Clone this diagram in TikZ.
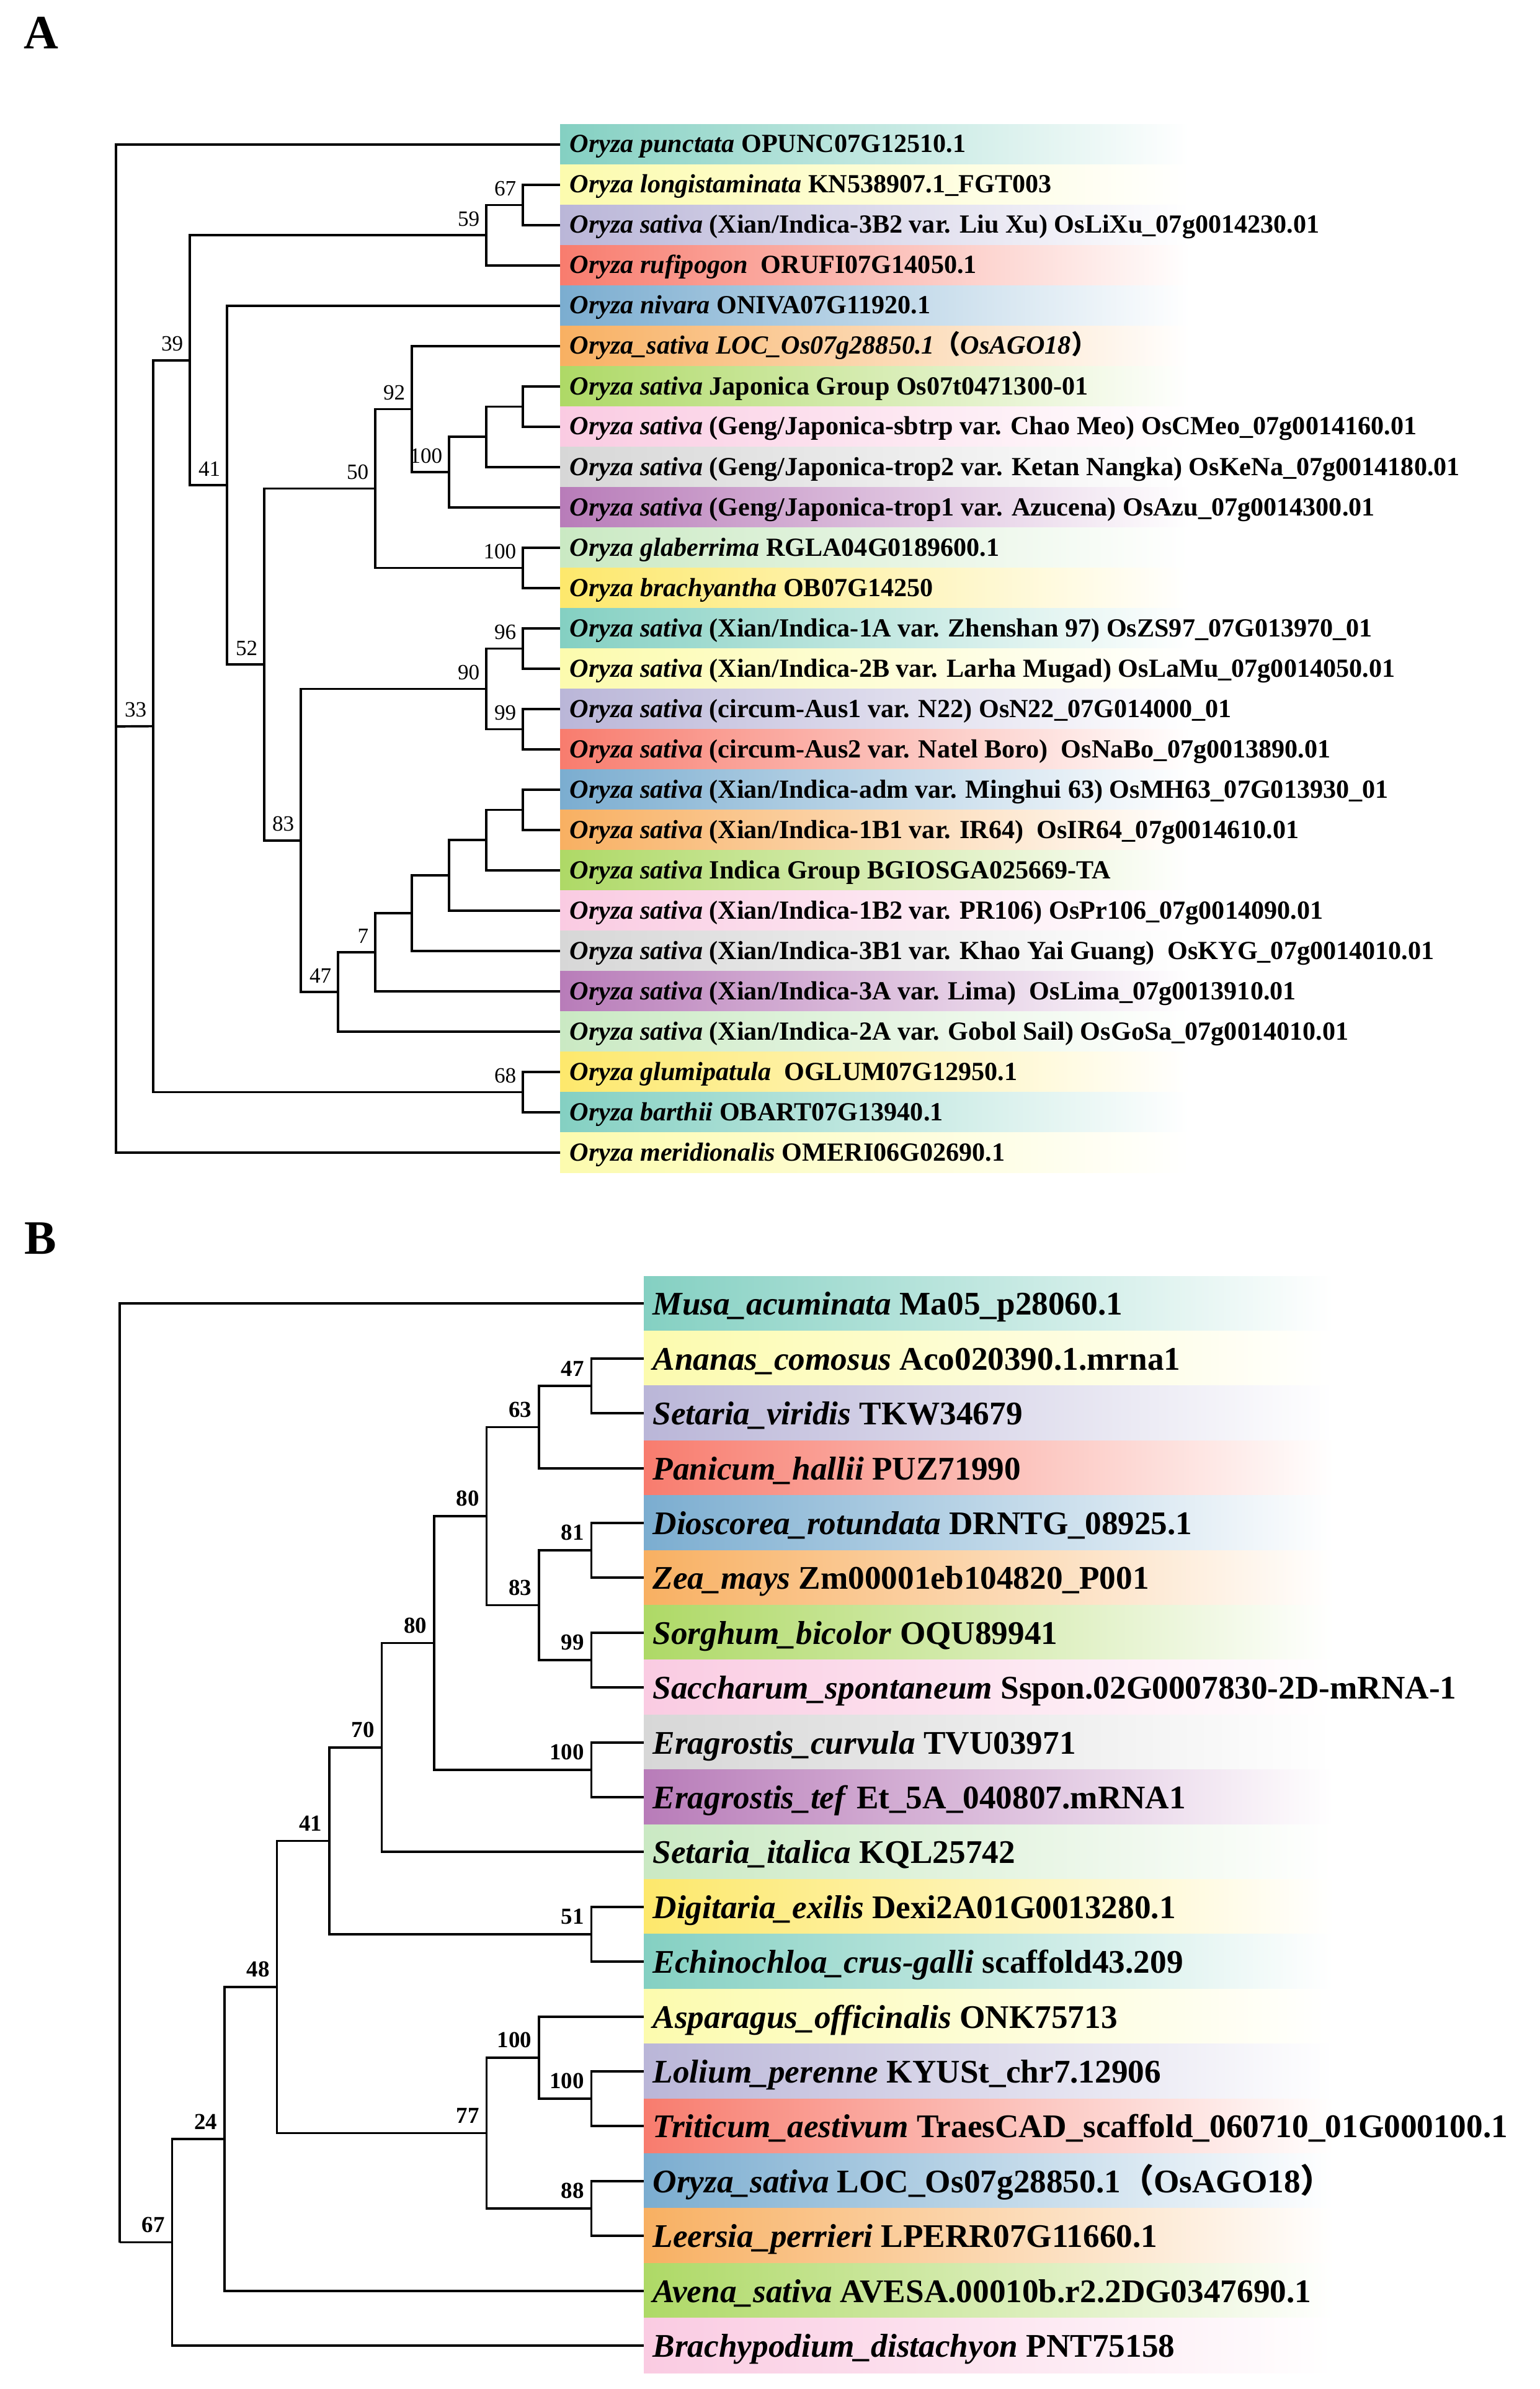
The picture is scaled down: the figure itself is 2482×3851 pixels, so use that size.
\documentclass[tikz,border=0pt]{standalone}
\usepackage{fontspec}
\setmainfont{Liberation Serif}
\newfontfamily\cjkfont{Noto Sans CJK SC}
\definecolor{cTeal}{HTML}{84D0C2}
\definecolor{cCream}{HTML}{FCFBAE}
\definecolor{cLilac}{HTML}{BAB6D8}
\definecolor{cSalmon}{HTML}{F87C6E}
\definecolor{cBlue}{HTML}{7BADD0}
\definecolor{cOrange}{HTML}{F8B062}
\definecolor{cGreen}{HTML}{AED966}
\definecolor{cPink}{HTML}{FACBE2}
\definecolor{cGrey}{HTML}{D7D7D7}
\definecolor{cPurple}{HTML}{B87CB9}
\definecolor{cMint}{HTML}{CAE9C3}
\definecolor{cGold}{HTML}{FDE86C}
\begin{document}
\begin{tikzpicture}[x=0.1mm,y=-0.1mm,
  branch/.style={line width=1.05pt, line join=miter},
  leafA/.style={anchor=west, inner xsep=1.5mm, inner ysep=0pt, text height=9.6pt, text depth=2.2pt,
    font=\fontsize{12}{14}\selectfont\bfseries},
  leafB/.style={anchor=west, inner xsep=1.4mm, inner ysep=0pt, text height=13.8pt, text depth=3.3pt,
    font=\fontsize{15.15}{18}\selectfont\bfseries},
  bsA/.style={label={[font=\fontsize{10}{12}\selectfont, inner sep=0pt, xshift=-1mm, yshift=1.4mm]above left:#1}},
  bsB/.style={label={[font=\fontsize{10.5}{12}\selectfont\bfseries, inner sep=0pt, xshift=-1.1mm, yshift=1.5mm]above left:#1}},
  panel/.style={anchor=base west, inner sep=0pt, font=\fontsize{22}{26}\selectfont\bfseries}]
\useasboundingbox (0,0) rectangle (2482,3851);

% panel A
\node[panel] (pA) at (38,79) {A};
\foreach \c [count=\i from 0] in {cTeal,cCream,cLilac,cSalmon,cBlue,cOrange,cGreen,cPink,cGrey,cPurple,cMint,cGold,
  cTeal,cCream,cLilac,cSalmon,cBlue,cOrange,cGreen,cPink,cGrey,cPurple,cMint,cGold,cTeal,cCream}
  \shade[left color=\c, right color=white] (903,{200.5+65*\i}) rectangle (1918,{265.5+65*\i});

\node[leafA] (tA0) at (903,233) {\textit{Oryza punctata} OPUNC07G12510.1};
\node[leafA] (tA1) at (903,298) {\textit{Oryza longistaminata} KN538907.1\_FGT003};
\node[leafA] (tA2) at (903,363) {\textit{Oryza sativa} (Xian/Indica-3B2 var. Liu Xu) OsLiXu\_07g0014230.01};
\node[leafA] (tA3) at (903,428) {\textit{Oryza rufipogon}\ \ ORUFI07G14050.1};
\node[leafA] (tA4) at (903,493) {\textit{Oryza nivara} ONIVA07G11920.1};
\node[leafA] (tA5) at (903,558) {\textit{Oryza\_sativa LOC\_Os07g28850.1}{\cjkfont （}\textit{OsAGO18}{\cjkfont ）}};
\node[leafA] (tA6) at (903,623) {\textit{Oryza sativa} Japonica Group Os07t0471300-01};
\node[leafA] (tA7) at (903,688) {\textit{Oryza sativa} (Geng/Japonica-sbtrp var. Chao Meo) OsCMeo\_07g0014160.01};
\node[leafA] (tA8) at (903,753) {\textit{Oryza sativa} (Geng/Japonica-trop2 var. Ketan Nangka) OsKeNa\_07g0014180.01};
\node[leafA] (tA9) at (903,818) {\textit{Oryza sativa} (Geng/Japonica-trop1 var. Azucena) OsAzu\_07g0014300.01};
\node[leafA] (tA10) at (903,883) {\textit{Oryza glaberrima} RGLA04G0189600.1};
\node[leafA] (tA11) at (903,948) {\textit{Oryza brachyantha} OB07G14250};
\node[leafA] (tA12) at (903,1013) {\textit{Oryza sativa} (Xian/Indica-1A var. Zhenshan 97) OsZS97\_07G013970\_01};
\node[leafA] (tA13) at (903,1078) {\textit{Oryza sativa} (Xian/Indica-2B var. Larha Mugad) OsLaMu\_07g0014050.01};
\node[leafA] (tA14) at (903,1143) {\textit{Oryza sativa} (circum-Aus1 var. N22) OsN22\_07G014000\_01};
\node[leafA] (tA15) at (903,1208) {\textit{Oryza sativa} (circum-Aus2 var. Natel Boro)\ \ OsNaBo\_07g0013890.01};
\node[leafA] (tA16) at (903,1273) {\textit{Oryza sativa} (Xian/Indica-adm var. Minghui 63) OsMH63\_07G013930\_01};
\node[leafA] (tA17) at (903,1338) {\textit{Oryza sativa} (Xian/Indica-1B1 var. IR64)\ \ OsIR64\_07g0014610.01};
\node[leafA] (tA18) at (903,1403) {\textit{Oryza sativa} Indica Group BGIOSGA025669-TA};
\node[leafA] (tA19) at (903,1468) {\textit{Oryza sativa} (Xian/Indica-1B2 var. PR106) OsPr106\_07g0014090.01};
\node[leafA] (tA20) at (903,1533) {\textit{Oryza sativa} (Xian/Indica-3B1 var. Khao Yai Guang)\ \ OsKYG\_07g0014010.01};
\node[leafA] (tA21) at (903,1598) {\textit{Oryza sativa} (Xian/Indica-3A var. Lima)\ \ OsLima\_07g0013910.01};
\node[leafA] (tA22) at (903,1663) {\textit{Oryza sativa} (Xian/Indica-2A var. Gobol Sail) OsGoSa\_07g0014010.01};
\node[leafA] (tA23) at (903,1728) {\textit{Oryza glumipatula}\ \ OGLUM07G12950.1};
\node[leafA] (tA24) at (903,1793) {\textit{Oryza barthii} OBART07G13940.1};
\node[leafA] (tA25) at (903,1858) {\textit{Oryza meridionalis} OMERI06G02690.1};

% inner nodes of A
\coordinate (rA) at (187,1171);
\coordinate[bsA=33] (nA33) at (247,1170.6);
\coordinate[bsA=39] (nA39) at (306,580.7);
\coordinate[bsA=59] (nA59) at (784,379.3);
\coordinate[bsA=67] (nA67) at (843,330.5);
\coordinate[bsA=41] (nA41) at (366,782.1);
\coordinate[bsA=52] (nA52) at (426,1071.1);
\coordinate[bsA=50] (nA50) at (605,787.5);
\coordinate[bsA=92] (nA92) at (664,659.6);
\coordinate[bsA=100] (nA100j) at (724,761.1);
\coordinate (nAj2) at (784,704.3);
\coordinate (nAj1) at (843,655.5);
\coordinate[bsA=100] (nA100g) at (843,915.5);
\coordinate[bsA=83] (nA83) at (485,1354.8);
\coordinate[bsA=90] (nA90) at (784,1110.5);
\coordinate[bsA=96] (nA96) at (843,1045.5);
\coordinate[bsA=99] (nA99) at (843,1175.5);
\coordinate[bsA=47] (nA47) at (545,1599);
\coordinate[bsA=7] (nA7) at (605,1535);
\coordinate (nAi4) at (664,1472.1);
\coordinate (nAi3) at (724,1411.1);
\coordinate (nAi2) at (784,1354.3);
\coordinate (nAi1) at (843,1305.5);
\coordinate[bsA=68] (nA68) at (843,1760.5);

\draw[branch] (rA) |- (tA0.west) (rA) -- (nA33) (rA) |- (tA25.west);
\draw[branch] (nA33) |- (nA39) (nA33) |- (nA68);
\draw[branch] (nA39) |- (nA59) (nA39) |- (nA41);
\draw[branch] (nA59) |- (nA67) (nA59) |- (tA3.west);
\draw[branch] (nA67) |- (tA1.west) (nA67) |- (tA2.west);
\draw[branch] (nA41) |- (tA4.west) (nA41) |- (nA52);
\draw[branch] (nA52) |- (nA50) (nA52) |- (nA83);
\draw[branch] (nA50) |- (nA92) (nA50) |- (nA100g);
\draw[branch] (nA92) |- (tA5.west) (nA92) |- (nA100j);
\draw[branch] (nA100j) |- (nAj2) (nA100j) |- (tA9.west);
\draw[branch] (nAj2) |- (nAj1) (nAj2) |- (tA8.west);
\draw[branch] (nAj1) |- (tA6.west) (nAj1) |- (tA7.west);
\draw[branch] (nA100g) |- (tA10.west) (nA100g) |- (tA11.west);
\draw[branch] (nA83) |- (nA90) (nA83) |- (nA47);
\draw[branch] (nA90) |- (nA96) (nA90) |- (nA99);
\draw[branch] (nA96) |- (tA12.west) (nA96) |- (tA13.west);
\draw[branch] (nA99) |- (tA14.west) (nA99) |- (tA15.west);
\draw[branch] (nA47) |- (nA7) (nA47) |- (tA22.west);
\draw[branch] (nA7) |- (nAi4) (nA7) |- (tA21.west);
\draw[branch] (nAi4) |- (nAi3) (nAi4) |- (tA20.west);
\draw[branch] (nAi3) |- (nAi2) (nAi3) |- (tA19.west);
\draw[branch] (nAi2) |- (nAi1) (nAi2) |- (tA18.west);
\draw[branch] (nAi1) |- (tA16.west) (nAi1) |- (tA17.west);
\draw[branch] (nA68) |- (tA23.west) (nA68) |- (tA24.west);

% panel B
\node[panel] (pB) at (39,2021) {B};
\foreach \c [count=\i from 0] in {cTeal,cCream,cLilac,cSalmon,cBlue,cOrange,cGreen,cPink,cGrey,cPurple,cMint,cGold,
  cTeal,cCream,cLilac,cSalmon,cBlue,cOrange,cGreen,cPink}
  \shade[left color=\c, right color=white] (1038,{2057+88.4*\i}) rectangle (2150,{2145.4+88.4*\i});

\node[leafB] (tB0) at (1038,2101) {\textit{Musa\_acuminata} Ma05\_p28060.1};
\node[leafB] (tB1) at (1038,2190) {\textit{Ananas\_comosus} Aco020390.1.mrna1};
\node[leafB] (tB2) at (1038,2278) {\textit{Setaria\_viridis} TKW34679};
\node[leafB] (tB3) at (1038,2367) {\textit{Panicum\_hallii} PUZ71990};
\node[leafB] (tB4) at (1038,2455) {\textit{Dioscorea\_rotundata} DRNTG\_08925.1};
\node[leafB] (tB5) at (1038,2543) {\textit{Zea\_mays} Zm00001eb104820\_P001};
\node[leafB] (tB6) at (1038,2632) {\textit{Sorghum\_bicolor} OQU89941};
\node[leafB] (tB7) at (1038,2720) {\textit{Saccharum\_spontaneum} Sspon.02G0007830-2D-mRNA-1};
\node[leafB] (tB8) at (1038,2809) {\textit{Eragrostis\_curvula} TVU03971};
\node[leafB] (tB9) at (1038,2897) {\textit{Eragrostis\_tef} Et\_5A\_040807.mRNA1};
\node[leafB] (tB10) at (1038,2985) {\textit{Setaria\_italica} KQL25742};
\node[leafB] (tB11) at (1038,3074) {\textit{Digitaria\_exilis} Dexi2A01G0013280.1};
\node[leafB] (tB12) at (1038,3162) {\textit{Echinochloa\_crus-galli} scaffold43.209};
\node[leafB] (tB13) at (1038,3251) {\textit{Asparagus\_officinalis} ONK75713};
\node[leafB] (tB14) at (1038,3339) {\textit{Lolium\_perenne} KYUSt\_chr7.12906};
\node[leafB] (tB15) at (1038,3427) {\textit{Triticum\_aestivum} TraesCAD\_scaffold\_060710\_01G000100.1};
\node[leafB] (tB16) at (1038,3516) {\textit{Oryza\_sativa} LOC\_Os07g28850.1{\cjkfont （}OsAGO18{\cjkfont ）}};
\node[leafB] (tB17) at (1038,3604) {\textit{Leersia\_perrieri} LPERR07G11660.1};
\node[leafB] (tB18) at (1038,3693) {\textit{Avena\_sativa} AVESA.00010b.r2.2DG0347690.1};
\node[leafB] (tB19) at (1038,3781) {\textit{Brachypodium\_distachyon} PNT75158};

% inner nodes of B
\coordinate (rB) at (193,3614.5);
\coordinate[bsB=67] (nB67) at (277.5,3614.5);
\coordinate[bsB=24] (nB24) at (362,3448);
\coordinate[bsB=48] (nB48) at (446.5,3203);
\coordinate[bsB=41] (nB41) at (531,2967.4);
\coordinate[bsB=70] (nB70) at (615.5,2816.8);
\coordinate[bsB=80] (nB80b) at (700,2648.5);
\coordinate[bsB=80] (nB80a) at (784.5,2444);
\coordinate[bsB=63] (nB63) at (869,2300.5);
\coordinate[bsB=47] (nB47) at (953.5,2234);
\coordinate[bsB=83] (nB83) at (869,2587.5);
\coordinate[bsB=81] (nB81) at (953.5,2499);
\coordinate[bsB=99] (nB99) at (953.5,2676);
\coordinate[bsB=100] (nB100e) at (953.5,2853);
\coordinate[bsB=51] (nB51) at (953.5,3118);
\coordinate[bsB=77] (nB77) at (784.5,3438.5);
\coordinate[bsB=100] (nB100a) at (869,3317);
\coordinate[bsB=100] (nB100b) at (953.5,3383);
\coordinate[bsB=88] (nB88) at (953.5,3560);

\draw[branch] (rB) |- (tB0.west) (rB) -- (nB67);
\draw[branch] (nB67) |- (nB24) (nB67) |- (tB19.west);
\draw[branch] (nB24) |- (nB48) (nB24) |- (tB18.west);
\draw[branch] (nB48) |- (nB41) (nB48) |- (nB77);
\draw[branch] (nB41) |- (nB70) (nB41) |- (nB51);
\draw[branch] (nB70) |- (nB80b) (nB70) |- (tB10.west);
\draw[branch] (nB80b) |- (nB80a) (nB80b) |- (nB100e);
\draw[branch] (nB80a) |- (nB63) (nB80a) |- (nB83);
\draw[branch] (nB63) |- (nB47) (nB63) |- (tB3.west);
\draw[branch] (nB47) |- (tB1.west) (nB47) |- (tB2.west);
\draw[branch] (nB83) |- (nB81) (nB83) |- (nB99);
\draw[branch] (nB81) |- (tB4.west) (nB81) |- (tB5.west);
\draw[branch] (nB99) |- (tB6.west) (nB99) |- (tB7.west);
\draw[branch] (nB100e) |- (tB8.west) (nB100e) |- (tB9.west);
\draw[branch] (nB51) |- (tB11.west) (nB51) |- (tB12.west);
\draw[branch] (nB77) |- (nB100a) (nB77) |- (nB88);
\draw[branch] (nB100a) |- (tB13.west) (nB100a) |- (nB100b);
\draw[branch] (nB100b) |- (tB14.west) (nB100b) |- (tB15.west);
\draw[branch] (nB88) |- (tB16.west) (nB88) |- (tB17.west);
\end{tikzpicture}
\end{document}
